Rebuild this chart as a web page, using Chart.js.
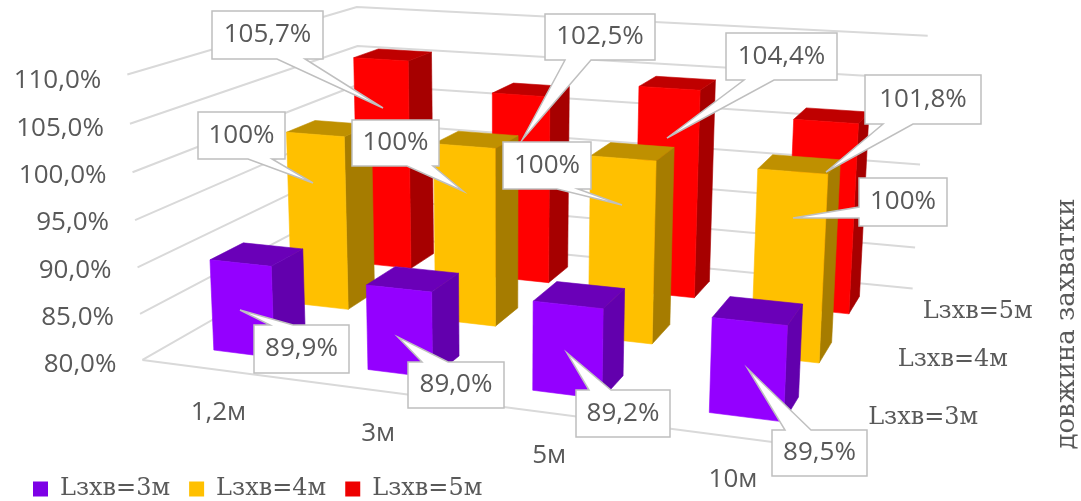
<!DOCTYPE html>
<html>
<head>
<meta charset="utf-8">
<style>html,body{margin:0;background:#fff}canvas{display:block}</style>
<script src="https://cdn.jsdelivr.net/npm/chart.js@4/dist/chart.umd.js"></script>
</head>
<body>
<canvas id="chart" width="1081" height="501"></canvas>
<script>
// Chart data
const categories = ['1,2м', '3м', '5м', '10м'];
const seriesNames = ['Lзхв=3м', 'Lзхв=4м', 'Lзхв=5м'];
const valuesL3 = [89.9, 89.0, 89.2, 89.5];
const valuesL4 = [100, 100, 100, 100];
const valuesL5 = [105.7, 102.5, 104.4, 101.8];
const yTicks = { min: 80, max: 110, step: 5 };
const depthTitle = 'довжина захватки';

// Perspective camera: maps (across, depth, height), each 0..1, onto the canvas
const CAMERA = [
  [578.74, 315.65, -20.27, 142.47],
  [30.57, -62.79, -288.49, 359.95],
  [-0.13116, 0.26724, -0.04027, 1]
];
const BAR_FRACTION = 0.4;
const GRID = '#d9d9d9';
const TEXT = '#595959';
const LABEL_FONT = '26px "Open Sans"';
const SERIF_FONT = '24px "DejaVu Serif"';
const TITLE_FONT = '26px "DejaVu Serif"';

const FACES = [
  { front: '#9400ff', top: '#6a00b8', side: '#6200ad', key: '#7d00e6' },
  { front: '#ffc000', top: '#bf9000', side: '#a67c00', key: '#ffc000' },
  { front: '#ff0000', top: '#bf0000', side: '#a60000', key: '#ee0000' }
];

// Callout placement per series and category: box [left, right, top, bottom],
// pointer base along one box side and pointer tip
const CALLOUTS = [
  [
    { box: [254, 349, 325, 373], side: 'top', base: [270, 293], tip: [240, 310] },
    { box: [408, 504, 362, 408], side: 'top', base: [422, 448], tip: [398, 337] },
    { box: [576, 670, 390, 437], side: 'top', base: [589, 611], tip: [567, 353] },
    { box: [772, 867, 430, 476], side: 'top', base: [785, 811], tip: [748, 369] }
  ],
  [
    { box: [198, 285, 112, 159], side: 'bottom', base: [248, 272], tip: [313, 183] },
    { box: [352, 439, 120, 166], side: 'bottom', base: [407, 433], tip: [463, 191] },
    { box: [503, 591, 142, 189], side: 'bottom', base: [557, 578], tip: [622, 205] },
    { box: [859, 947, 178, 226], side: 'left', base: [207, 218], tip: [793, 218] }
  ],
  [
    { box: [212, 323, 11, 59], side: 'bottom', base: [277, 305], tip: [383, 108] },
    { box: [545, 655, 14, 60], side: 'bottom', base: [565, 591], tip: [522, 140] },
    { box: [726, 837, 33, 80], side: 'bottom', base: [744, 774], tip: [667, 138] },
    { box: [865, 981, 75, 124], side: 'bottom', base: [883, 913], tip: [826, 172] }
  ]
];

function project(u, w, h) {
  const [a, b, c] = CAMERA;
  const d = c[0] * u + c[1] * w + c[2] * h + c[3];
  return [
    (a[0] * u + a[1] * w + a[2] * h + a[3]) / d,
    (b[0] * u + b[1] * w + b[2] * h + b[3]) / d
  ];
}

function fillPoly(ctx, pts, color) {
  ctx.beginPath();
  pts.forEach((p, i) => (i ? ctx.lineTo(p[0], p[1]) : ctx.moveTo(p[0], p[1])));
  ctx.closePath();
  ctx.fillStyle = color;
  ctx.fill();
  ctx.strokeStyle = color;
  ctx.lineWidth = 0.6;
  ctx.stroke();
}

const formatPercent = v => v.toFixed(1).replace('.', ',') + '%';
const formatLabel = (v, series) => (series === 1 ? Math.round(v) + '%' : formatPercent(v));

// Bar controller that renders each bar as a box seen through the camera
class Box3DController extends Chart.BarController {
  draw() {
    const { ctx, scales } = this.chart;
    const { x, y, depth } = scales;
    const faces = FACES[this.index];
    const wMid = (depth.getPixelForValue(this.index) - depth.left) / depth.width;
    const wHalf = BAR_FRACTION / depth.ticks.length / 2;
    const w0 = wMid - wHalf, w1 = wMid + wHalf;
    ctx.save();
    this.getMeta().data.forEach(bar => {
      const u0 = (bar.x - bar.width / 2 - x.left) / x.width;
      const u1 = (bar.x + bar.width / 2 - x.left) / x.width;
      const h1 = (y.bottom - bar.y) / y.height;
      const h0 = (y.bottom - bar.base) / y.height;
      fillPoly(ctx, [project(u1, w0, h0), project(u1, w1, h0), project(u1, w1, h1), project(u1, w0, h1)], faces.side);
      fillPoly(ctx, [project(u0, w0, h1), project(u1, w0, h1), project(u1, w1, h1), project(u0, w1, h1)], faces.top);
      fillPoly(ctx, [project(u0, w0, h0), project(u1, w0, h0), project(u1, w0, h1), project(u0, w0, h1)], faces.front);
    });
    ctx.restore();
  }
}
Box3DController.id = 'box3d';
Box3DController.defaults = Chart.BarController.defaults;
Box3DController.overrides = Chart.BarController.overrides;
Chart.register(Box3DController);

function calloutPath(ctx, c) {
  const [l, r, t, b] = c.box;
  const pts = [[l, t]];
  if (c.side === 'top') pts.push([c.base[0], t], c.tip, [c.base[1], t]);
  pts.push([r, t], [r, b]);
  if (c.side === 'bottom') pts.push([c.base[1], b], c.tip, [c.base[0], b]);
  pts.push([l, b]);
  if (c.side === 'left') pts.push([l, c.base[1]], c.tip, [l, c.base[0]]);
  ctx.beginPath();
  pts.forEach((p, i) => (i ? ctx.lineTo(p[0], p[1]) : ctx.moveTo(p[0], p[1])));
  ctx.closePath();
}

const scene = {
  id: 'scene',
  // Tick labels of both axes follow the projected floor edges
  beforeDraw(chart) {
    const { x, y } = chart.scales;
    y.getLabelItems(chart.chartArea).forEach((item, i) => {
      const h = (y.bottom - y.getPixelForTick(i)) / y.height;
      item.options.translation[0] = project(0, 0, h)[0] - 26;
    });
    x._computeLabelArea = () => undefined;
    x.getLabelItems(chart.chartArea).forEach((item, i) => {
      const p = project((x.getPixelForTick(i) - x.left) / x.width, 0, 0);
      item.options.translation = [p[0], p[1] + 43];
      item.options.textAlign = 'center';
      item.options.textBaseline = 'middle';
      item.textOffset = 0;
    });
  },
  // Wall gridlines and the floor outline
  beforeDatasetsDraw(chart) {
    const { ctx, scales: { y } } = chart;
    ctx.save();
    ctx.strokeStyle = GRID;
    ctx.lineWidth = 2;
    ctx.lineJoin = 'round';
    y.ticks.forEach(t => {
      const h = (y.bottom - y.getPixelForValue(t.value)) / y.height;
      ctx.beginPath();
      ctx.moveTo(...project(0, 0, h));
      ctx.lineTo(...project(0, 1, h));
      ctx.lineTo(...project(1, 1, h));
      ctx.stroke();
    });
    ctx.beginPath();
    ctx.moveTo(...project(0, 0, 0));
    ctx.lineTo(...project(1, 0, 0));
    ctx.stroke();
    ctx.restore();
  },
  // Series names, axis title and value callouts on top of the bars
  afterDatasetsDraw(chart) {
    const { ctx, scales: { depth }, data } = chart;
    ctx.save();
    ctx.textAlign = 'center';
    ctx.textBaseline = 'middle';
    ctx.fillStyle = TEXT;
    ctx.font = SERIF_FONT;
    seriesNames.forEach((name, s) => {
      const p = project(1, (depth.getPixelForValue(s) - depth.left) / depth.width, 0);
      ctx.fillText(name, p[0] + 76, p[1] + 2);
    });
    ctx.save();
    ctx.translate(1067, 324);
    ctx.rotate(-Math.PI / 2);
    ctx.font = TITLE_FONT;
    ctx.fillText(depthTitle, 0, 0);
    ctx.restore();

    ctx.font = LABEL_FONT;
    for (let s = data.datasets.length - 1; s >= 0; s--) {
      data.datasets[s].data.forEach((v, i) => {
        const c = CALLOUTS[s][i];
        calloutPath(ctx, c);
        ctx.fillStyle = '#fff';
        ctx.fill();
        ctx.strokeStyle = '#bfbfbf';
        ctx.lineWidth = 1.5;
        ctx.lineJoin = 'miter';
        ctx.stroke();
        ctx.fillStyle = TEXT;
        ctx.fillText(formatLabel(v, s), (c.box[0] + c.box[1]) / 2, (c.box[2] + c.box[3]) / 2);
      });
    }
    ctx.restore();
  }
};

new Chart(document.getElementById('chart'), {
  type: 'box3d',
  data: {
    labels: categories,
    datasets: [valuesL3, valuesL4, valuesL5].map((data, s) => ({
      label: seriesNames[s],
      data,
      base: yTicks.min,
      backgroundColor: FACES[s].key,
      borderWidth: 0,
      clip: false,
      grouped: false,
      categoryPercentage: 1,
      barPercentage: BAR_FRACTION
    }))
  },
  options: {
    responsive: false,
    animation: false,
    layout: { padding: { left: 14, top: 81, right: 0, bottom: -10 } },
    plugins: {
      tooltip: { enabled: false },
      legend: {
        position: 'bottom',
        align: 'start',
        labels: { boxWidth: 15, boxHeight: 15, padding: 19, color: TEXT, font: { family: 'DejaVu Serif', size: 24 } }
      }
    },
    scales: {
      x: {
        type: 'category',
        offset: true,
        grid: { display: false },
        border: { display: false },
        ticks: { color: TEXT, font: { family: 'Open Sans', size: 26 }, maxRotation: 0, autoSkip: false },
        afterFit(scale) { scale.height = 93; }
      },
      y: {
        type: 'linear',
        min: yTicks.min,
        max: yTicks.max,
        grid: { display: false },
        border: { display: false },
        ticks: { stepSize: yTicks.step, color: TEXT, font: { family: 'Open Sans', size: 26 }, callback: formatPercent },
        afterFit(scale) { scale.width = 111; }
      },
      depth: {
        type: 'category',
        axis: 'x',
        labels: seriesNames,
        offset: true,
        display: false
      }
    }
  },
  plugins: [scene]
});
</script>
</body>
</html>
